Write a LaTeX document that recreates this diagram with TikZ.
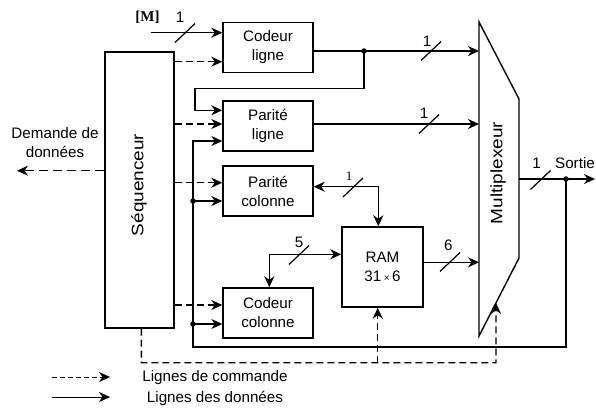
\documentclass[tikz,border=0pt]{standalone}
\usepackage{fontspec}
\usepackage{graphicx}
\setmainfont{Liberation Sans}
\newfontfamily\serifft{Liberation Serif}
\usetikzlibrary{arrows.meta,calc}
\begin{document}
\begin{tikzpicture}[x=1pt,y=-1pt, line width=1.4pt,
  >={Stealth[length=11pt,width=10pt,inset=3.5pt]},
  box/.style={draw, minimum width=90pt, minimum height=50pt, align=center,
    inner sep=0pt, font=\fontsize{15.2}{19}\selectfont},
  ctrl/.style={dash pattern=on 7pt off 4pt, ->},
  lbl/.style={font=\fontsize{15.2}{19}\selectfont, inner sep=0pt, align=center},
  vlbl/.style={font=\fontsize{16.5}{19}\selectfont, inner sep=0pt, rotate=90},
  dot/.style={circle, fill, inner sep=0pt, minimum size=5.5pt},
  slash/.style={line width=1.2pt},
]
\useasboundingbox (0,0) rectangle (596,407);

% blocks
\node[box, minimum width=69pt, minimum height=276pt] (seq) at (139.5,190) {};
\node[vlbl] (seqlbl) at (139,185) {\scalebox{1.15}[1]{Séquenceur}};
\node[box] (cl) at (268,47.5) {Codeur\\ligne};
\node[box] (pl) at (268,126) {Parité\\ligne};
\node[box] (pc) at (268,191) {Parité\\colonne};
\node[box] (cc) at (268,313) {Codeur\\colonne};
\node[box, minimum width=81pt, minimum height=80pt] (ram) at (382.5,267)
  {RAM\\31\,{\fontsize{10}{10}\selectfont ×}\,6};

% multiplexer
\coordinate (m1) at (479,22);
\coordinate (m2) at (519,99);
\coordinate (m3) at (519,258);
\coordinate (m4) at (479,336);
\draw (m1) -- (m2) -- (m3) -- (m4) -- cycle;
\node[vlbl] (muxlbl) at (498,173) {\scalebox{1.15}[1]{Multiplexeur}};

% input [M]
\coordinate (min) at (151,32.7);
\draw[->] (min) -- (cl.west |- min);
\node[lbl, font=\serifft\bfseries\fontsize{15}{15}\selectfont] (mlbl) at (147.5,17) {[M]};
\draw[slash] (185,33) ++(-10,9.5) -- ++(20,-19);
\node[lbl] (n1a) at (180,17) {1};

% Codeur ligne -> mux, with loop to Parite ligne
\coordinate (j1) at (364,51);
\draw[->] (cl.east |- j1) -- (j1) -- (m1 |- j1);
\node[dot] (d1) at (j1) {};
\draw[->] (j1) -- ++(0,37.5) -| (195,110.3) -- (pl.west |- 0,110.3);
\draw[slash] (431,51) ++(-10,9.5) -- ++(20,-19);
\node[lbl] (n1b) at (427,41) {1};

% Parite ligne -> mux
\draw[->] (pl.east |- 0,124) -- (m1 |- 0,124);
\draw[slash] (429,124) ++(-10,9.5) -- ++(20,-19);
\node[lbl] (n1c) at (424,113) {1};

% sequencer control lines
\draw[ctrl] (seq.east |- 0,61.7) -- (cl.west |- 0,61.7);
\draw[ctrl] (seq.east |- 0,124) -- (pl.west |- 0,124);
\draw[ctrl] (seq.east |- 0,182.7) -- (pc.west |- 0,182.7);
\draw[ctrl] (seq.east |- 0,305) -- (cc.west |- 0,305);

% Demande de donnees
\coordinate (dem) at (17,170.7);
\draw[->, dash pattern=on 9pt off 5pt] (seq.west |- dem) -- (dem);
\node[lbl] (demlbl) at (55,142.5) {Demande de\\données};

% output and feedback
\coordinate (so) at (566,179);
\coordinate (out) at (595,179);
\draw[->] (m2 |- so) -- (out);
\node[dot] (d2) at (so) {};
\draw[slash] (540.5,180) ++(-10,9.5) -- ++(20,-19);
\node[lbl] (n1d) at (536.7,163) {1};
\node[lbl] (sortie) at (575,163) {Sortie};
\draw[->] (so) |- (193,347) |- (pl.west |- 0,141);
\node[dot] (d3) at (193,201) {};
\draw[->] (d3.center) -- (pc.west |- d3);
\node[dot] (d4) at (193,324) {};
\draw[->] (d4.center) -- (cc.west |- d4);

% Parite colonne <-> RAM
\draw[<->] (pc.east |- 0,186.7) -| (ram.north -| 378.3,0);
\draw[slash] (353,187.5) ++(-10,9.5) -- ++(20,-19);
\node[lbl, font=\serifft\fontsize{13}{13}\selectfont] (n1e) at (349,176) {1};

% Codeur colonne <-> RAM
\draw[<->] (cc.north -| 269.3,0) |- (ram.west |- 0,254.3);
\draw[slash] (299,255) ++(-10,9.5) -- ++(20,-19);
\node[lbl] (n5) at (299,242.3) {5};

% RAM -> mux
\draw[->] (ram.east |- 0,262.3) -- (m1 |- 0,262.3);
\draw[slash] (450,262) ++(-10,9.5) -- ++(20,-19);
\node[lbl] (n6) at (448.3,245.7) {6};

% bottom control lines
\coordinate (mb) at (496,362.7);
\coordinate (mctl) at ($(m3)!0.575!(m4)$);
\draw[ctrl] (seq.south -| 141.3,0) |- (mb) -- (mctl);
\draw[ctrl] (377.7,362.7) -- (ram.south -| 377.7,0);

% legend
\coordinate (lg1) at (52,377);
\coordinate (lg2) at (110,377);
\coordinate (lg3) at (52,397);
\coordinate (lg4) at (110,397);
\draw[ctrl, line width=0.9pt, dash pattern=on 5pt off 3pt] (lg1) -- (lg2);
\draw[->, line width=0.9pt] (lg3) -- (lg4);
\node[lbl] (leg1) at (215,378) {Lignes de commande};
\node[lbl] (leg2) at (215,398) {Lignes des données};
\end{tikzpicture}
\end{document}
